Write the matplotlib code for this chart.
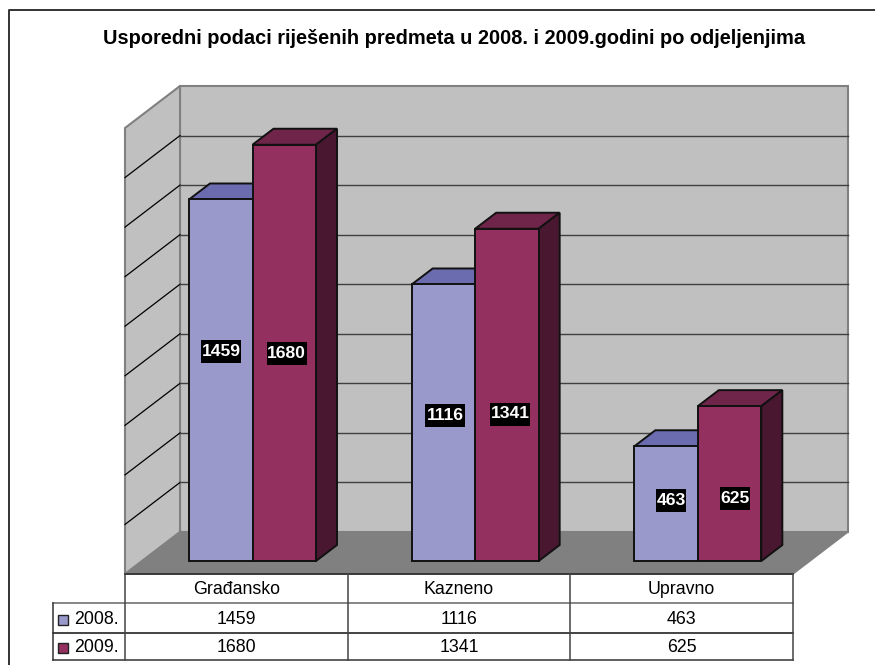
import matplotlib
matplotlib.use('Agg')
import matplotlib.pyplot as plt
from matplotlib.patches import Polygon, Rectangle

categorias = ['Građansko', 'Kazneno', 'Upravno']
series = ['2008.', '2009.']
v2008 = [1459, 1116, 463]
v2009 = [1680, 1341, 625]
passos = list(range(0, 2000, 200))
titulo = 'Usporedni podaci riješenih predmeta u 2008. i 2009.godini po odjeljenjima'

cor_a = ('#9999cc', '#6b6bb0')
cor_b = ('#93305f', '#6f2549', '#4a1731')

plt.rcParams['font.family'] = ['Liberation Sans', 'DejaVu Sans']

fig = plt.figure(figsize=(8.75, 6.65), dpi=100)
ax = fig.add_axes([0, 0, 1, 1])
ax.set_xlim(0, 875)
ax.set_ylim(665, 0)
ax.axis('off')

# geometria em pixels
x0, x1 = 125, 793
y_chao = 574
dx, dy = 55, 42
escala = 446 / 1800


def yv(v, base=y_chao):
    return base - v * escala


def poli(pts, fc, ec='#808080', lw=1.5, z=1):
    ax.add_patch(Polygon(pts, closed=True, fc=fc, ec=ec, lw=lw, zorder=z))


# moldura: so topo e lado esquerdo
ax.plot([8.5, 8.5, 875], [665, 10, 10], color='#333333', lw=1.4, zorder=0)

topo = passos[-1]
poli([(x0 + dx, yv(0) - dy), (x1 + dx, yv(0) - dy), (x1 + dx, yv(topo) - dy), (x0 + dx, yv(topo) - dy)], '#c0c0c0')
poli([(x0, yv(0)), (x0 + dx, yv(0) - dy), (x0 + dx, yv(topo) - dy), (x0, yv(topo))], '#c0c0c0')
poli([(x0, yv(0)), (x1, yv(0)), (x1 + dx, yv(0) - dy), (x0 + dx, yv(0) - dy)], '#808080', lw=1)

for p in passos[1:-1]:
    ax.plot([x0, x0 + dx], [yv(p), yv(p) - dy], color='black', lw=0.9, zorder=2)
    ax.plot([x0 + dx, x1 + dx], [yv(p) - dy, yv(p) - dy], color='#404040', lw=1, zorder=2)

larg_cat = (x1 - x0) / len(categorias)
larg = 63.5
ddx, ddy = 21, 16
base = 561


def barra(xe, v, cores, z):
    t = yv(v, base)
    poli([(xe, t), (xe + ddx, t - ddy), (xe + larg + ddx, t - ddy), (xe + larg, t)], cores[1], ec='#111111', lw=1.4, z=z)
    poli([(xe + larg, base), (xe + larg + ddx, base - ddy), (xe + larg + ddx, t - ddy), (xe + larg, t)],
         cores[-1] if len(cores) > 2 else cores[1], ec='#111111', lw=1.4, z=z)
    poli([(xe, base), (xe + larg, base), (xe + larg, t), (xe, t)], cores[0], ec='#111111', lw=1.4, z=z + 0.1)


for i in range(len(categorias)):
    xe = x0 + 64 + i * larg_cat
    barra(xe, v2008[i], cor_a, 3)
    barra(xe + larg, v2009[i], cor_b, 4)


def rotulo(x, y, v):
    s = str(v)
    w = 10 * len(s)
    ax.add_patch(Rectangle((x - w / 2, y - 11.5), w, 23, fc='black', ec='none', zorder=6))
    ax.text(x, y, s, color='white', fontsize=12.6, fontweight='bold', ha='center', va='center', zorder=7)


# rotulos: centro em pixels
rot_ax = [221, 445, 671]
rot_ay = [351.5, 415, 500.5]
rot_bx = [286.5, 510, 735]
rot_by = [353.5, 414, 498.5]
for i in range(len(categorias)):
    rotulo(rot_ax[i], rot_ay[i], v2008[i])
    rotulo(rot_bx[i], rot_by[i], v2009[i])

# tabela de dados
y_t = [574, 603, 633, 660]
x_l = 53
cores_lin = ['#222222', '#666666', '#111111', '#333333']
ax.plot([x0, x1], [y_t[0], y_t[0]], color=cores_lin[0], lw=1.1, zorder=5)
for y, c in zip(y_t[1:], cores_lin[1:]):
    ax.plot([x_l, x1], [y, y], color=c, lw=1.1, zorder=5)
ax.plot([x_l, x_l], [y_t[1], y_t[3]], color='#333333', lw=1.1, zorder=5)
for i in range(len(categorias) + 1):
    ax.plot([x0 + i * larg_cat] * 2, [y_t[0], y_t[3]], color='#444444', lw=1.1, zorder=5)

for i, c in enumerate(categorias):
    xc = x0 + (i + 0.5) * larg_cat
    ax.text(xc, 589, c, fontsize=12.8, ha='center', va='center')
    ax.text(xc, 620, str(v2008[i]), fontsize=12.8, ha='center', va='center')
    ax.text(xc, 648, str(v2009[i]), fontsize=12.8, ha='center', va='center')

for s, y, c in zip(series, [620, 648], [cor_a[0], cor_b[0]]):
    ax.add_patch(Rectangle((58, y - 5), 10, 10, fc=c, ec='#222222', lw=1, zorder=6))
    ax.text(74, y, s, fontsize=12.8, ha='left', va='center')

ax.text(454.5, 39, titulo, fontsize=14.45, fontweight='bold', ha='center', va='center')

fig.savefig('out.png', dpi=100)
